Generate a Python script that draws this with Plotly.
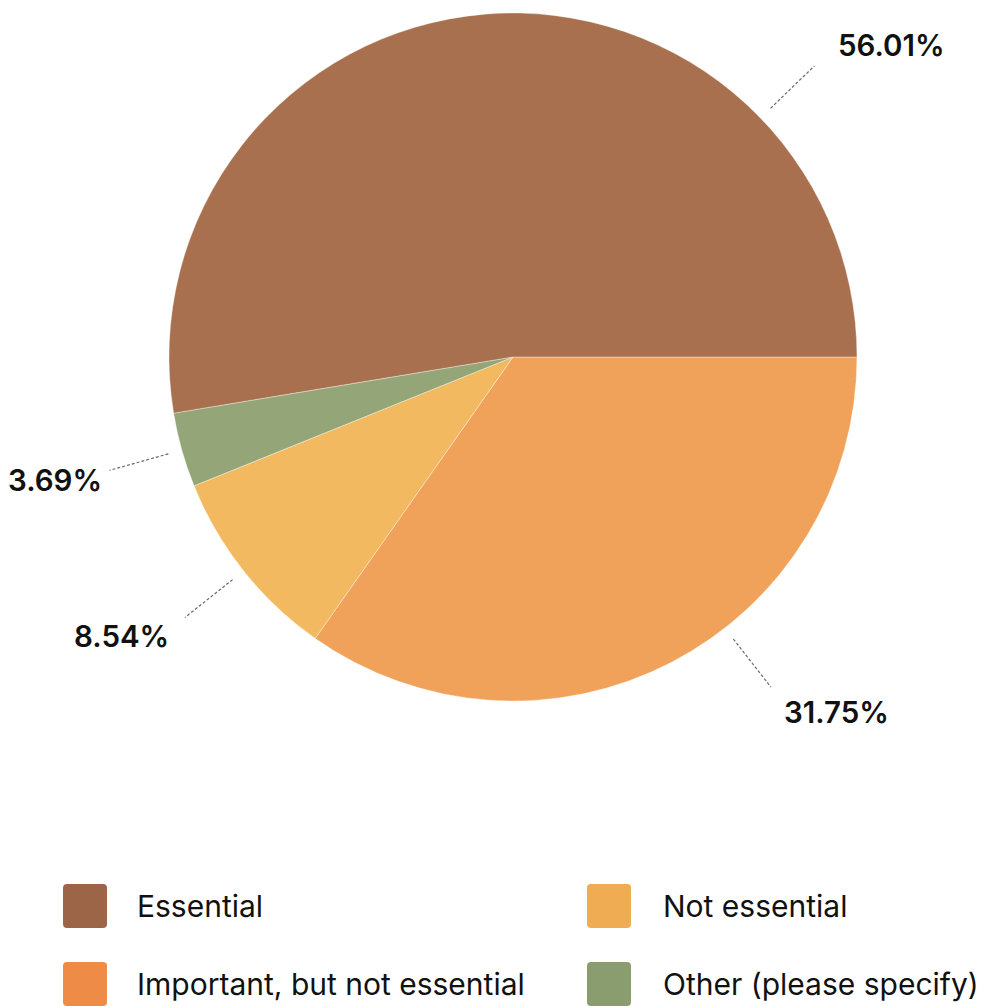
import math
import plotly.graph_objects as go

# ---------------- data ----------------
categories = ["Important, but not essential", "Not essential", "Other (please specify)", "Essential"]
slice_shares = [34.75, 9.14, 3.50, 52.61]          # slice sizes as drawn
pct_labels = ["31.75%", "8.54%", "3.69%", "56.01%"]  # percentages printed on the chart
legend_order = ["Essential", "Not essential", "Important, but not essential", "Other (please specify)"]

# ---------------- style ----------------
W, H = 986, 1006
OFF = 8   # page body margin of the browser
pie_colors = {"Essential": "#A8704F", "Important, but not essential": "#F0A25A",
              "Not essential": "#F3B960", "Other (please specify)": "#94A678"}
legend_colors = {"Essential": "#9D6548", "Important, but not essential": "#EE8B46",
                 "Not essential": "#F0AC52", "Other (please specify)": "#8A9D6E"}
FONT = "Inter"
cx, cy, R = 513, 357, 344           # pie centre / radius in page pixels
r_in, r_out = 358, 419              # leader line radii


def px(x):
    return (x - OFF) / W


def py(y):
    return 1 - (y - OFF) / H


fig = go.Figure()
fig.add_trace(go.Pie(
    labels=categories, values=slice_shares, sort=False, direction="clockwise", rotation=90,
    marker=dict(colors=[pie_colors[c] for c in categories], line=dict(color="rgba(255,255,255,0.6)", width=0.6)),
    textinfo="none", hoverinfo="label+percent", showlegend=False,
    domain=dict(x=[px(cx - R), px(cx + R)], y=[py(cy + R), py(cy - R)]),
))

# label angles (degrees, counter-clockwise from 3 o'clock): slice mid-angle, big slices moved
total = sum(slice_shares)
cum = 0
mid = {}
for c, v in zip(categories, slice_shares):
    mid[c] = -(cum + v / 2) / total * 360
    cum += v
angle_override = {"Essential": 44.0, "Important, but not essential": -52.0}
text_offset = {"Essential": (22, -21), "Important, but not essential": (11, 25),
               "Other (please specify)": (-6, 10), "Not essential": (-14, 18)}

shapes, annotations = [], []
for c, lab in zip(categories, pct_labels):
    a = math.radians(angle_override.get(c, mid[c]))
    x1, y1 = cx + r_in * math.cos(a), cy - r_in * math.sin(a)
    x2, y2 = cx + r_out * math.cos(a), cy - r_out * math.sin(a)
    shapes.append(dict(type="line", xref="paper", yref="paper", x0=px(x1), y0=py(y1), x1=px(x2), y1=py(y2),
                       line=dict(color="#6a6a6a", width=1.2, dash="3px,2px")))
    dx, dy = text_offset[c]
    annotations.append(dict(xref="paper", yref="paper", x=px(x2 + dx), y=py(y2 + dy), text=lab, showarrow=False,
                            xanchor="left" if math.cos(a) > 0 else "right", yanchor="middle",
                            font=dict(family=FONT, size=29.5, color="#111111", weight=600)))

# legend (2 columns, row-major)
col_sq_x = [63, 587]
col_tx_x = [135, 661]
row_y = [906, 984]
S = 44
rr = 4
for i, c in enumerate(legend_order):
    col, row = i % 2, i // 2
    x0, y0 = col_sq_x[col], row_y[row] - S / 2
    x1_, y1_ = x0 + S, y0 + S
    path = (f"M {px(x0+rr)},{py(y0)} L {px(x1_-rr)},{py(y0)} Q {px(x1_)},{py(y0)} {px(x1_)},{py(y0+rr)} "
            f"L {px(x1_)},{py(y1_-rr)} Q {px(x1_)},{py(y1_)} {px(x1_-rr)},{py(y1_)} "
            f"L {px(x0+rr)},{py(y1_)} Q {px(x0)},{py(y1_)} {px(x0)},{py(y1_-rr)} "
            f"L {px(x0)},{py(y0+rr)} Q {px(x0)},{py(y0)} {px(x0+rr)},{py(y0)} Z")
    shapes.append(dict(type="path", xref="paper", yref="paper", path=path,
                       fillcolor=legend_colors[c], line=dict(width=0)))
    annotations.append(dict(xref="paper", yref="paper", x=px(col_tx_x[col]), y=py(row_y[row]), text=c,
                            showarrow=False, xanchor="left", yanchor="middle",
                            font=dict(family=FONT, size=30, color="#111111")))

fig.update_layout(width=W, height=H, margin=dict(l=0, r=0, t=0, b=0),
                  paper_bgcolor="white", plot_bgcolor="white",
                  shapes=shapes, annotations=annotations, showlegend=False)
fig.write_html("out.html")
